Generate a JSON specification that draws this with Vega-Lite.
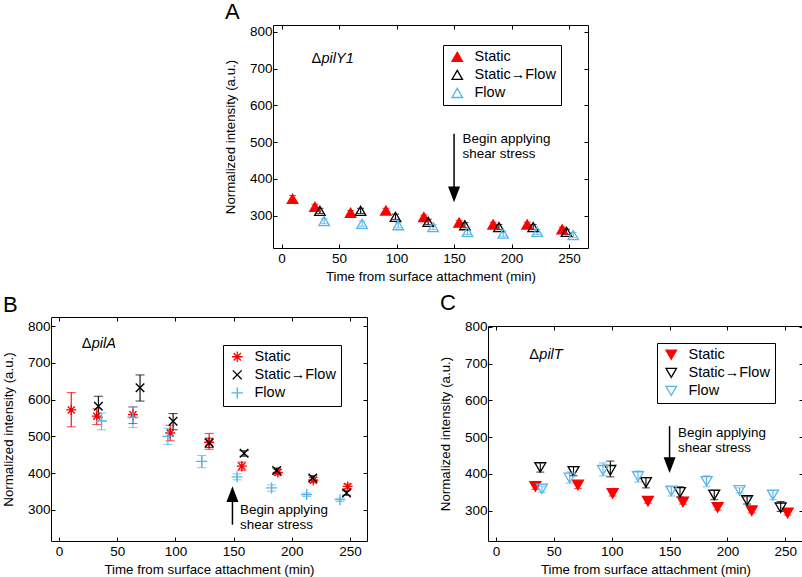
{
"$schema":"https://vega.github.io/schema/vega-lite/v6.json",
"padding":{"left":0,"top":0,"right":0,"bottom":0},
"config":{
 "font":"Liberation Sans",
 "view":{"stroke":"black","strokeWidth":1},
 "axis":{"domain":false,"grid":false,"tickColor":"black","tickSize":-4,"tickWidth":1,"labelFont":"Liberation Sans","labelFontSize":13.5,"labelColor":"black","titleFont":"Liberation Sans","titleFontSize":13.3,"titleFontWeight":"normal","titleColor":"black"},
 "axisX":{"labelPadding":7,"titlePadding":5},
 "axisY":{"labelPadding":5,"titlePadding":12},
 "legend":{"labelFont":"Liberation Sans","labelFontSize":14.5,"labelColor":"black","strokeColor":"black","padding":4.5,"symbolOffset":2.5,"rowPadding":2.1,"symbolStrokeWidth":1.3,"labelOffset":10,"fillColor":"white","symbolSize":110},
 "title":{"font":"Liberation Sans","color":"black"}
},
"datasets":{
 "pts":[
  {"p":"A","s":"Static","t":9.5,"v":346,"lo":337,"hi":355},
  {"p":"A","s":"Static","t":29,"v":324,"lo":317,"hi":331},
  {"p":"A","s":"Static","t":60,"v":308,"lo":302,"hi":314},
  {"p":"A","s":"Static","t":90.7,"v":314,"lo":308,"hi":320},
  {"p":"A","s":"Static","t":123.7,"v":296,"lo":290,"hi":302},
  {"p":"A","s":"Static","t":154.4,"v":281,"lo":275,"hi":287},
  {"p":"A","s":"Static","t":184,"v":276,"lo":270,"hi":282},
  {"p":"A","s":"Static","t":213.6,"v":276,"lo":270,"hi":282},
  {"p":"A","s":"Static","t":244,"v":263,"lo":257,"hi":269},
  {"p":"A","s":"Static→Flow","t":33.3,"v":313,"lo":306,"hi":320},
  {"p":"A","s":"Static→Flow","t":68.7,"v":313,"lo":306,"hi":320},
  {"p":"A","s":"Static→Flow","t":99,"v":297,"lo":290,"hi":304},
  {"p":"A","s":"Static→Flow","t":127.5,"v":283,"lo":276,"hi":290},
  {"p":"A","s":"Static→Flow","t":159.4,"v":274,"lo":267,"hi":281},
  {"p":"A","s":"Static→Flow","t":189,"v":269,"lo":262,"hi":276},
  {"p":"A","s":"Static→Flow","t":218.8,"v":269,"lo":262,"hi":276},
  {"p":"A","s":"Static→Flow","t":247.8,"v":256,"lo":249,"hi":263},
  {"p":"A","s":"Flow","t":37,"v":285,"lo":278,"hi":292},
  {"p":"A","s":"Flow","t":70,"v":278,"lo":271,"hi":285},
  {"p":"A","s":"Flow","t":101.4,"v":274,"lo":267,"hi":281},
  {"p":"A","s":"Flow","t":131.8,"v":269,"lo":262,"hi":276},
  {"p":"A","s":"Flow","t":161.7,"v":256,"lo":249,"hi":263},
  {"p":"A","s":"Flow","t":192.7,"v":251,"lo":244,"hi":258},
  {"p":"A","s":"Flow","t":222.3,"v":256,"lo":249,"hi":263},
  {"p":"A","s":"Flow","t":253.6,"v":247,"lo":240,"hi":254},
  {"p":"B","s":"Static","t":10.5,"v":572,"lo":526,"hi":619},
  {"p":"B","s":"Static","t":32.4,"v":555,"lo":532,"hi":575},
  {"p":"B","s":"Static","t":63.5,"v":559,"lo":535,"hi":580},
  {"p":"B","s":"Static","t":95.5,"v":509,"lo":488,"hi":530},
  {"p":"B","s":"Static","t":129,"v":484,"lo":465,"hi":508},
  {"p":"B","s":"Static","t":157,"v":419,"lo":408,"hi":430},
  {"p":"B","s":"Static","t":188,"v":402,"lo":395,"hi":410},
  {"p":"B","s":"Static","t":218.5,"v":381,"lo":375,"hi":388},
  {"p":"B","s":"Static","t":248,"v":364,"lo":358,"hi":370},
  {"p":"B","s":"Static→Flow","t":33.8,"v":582,"lo":552,"hi":609},
  {"p":"B","s":"Static→Flow","t":69.6,"v":632,"lo":596,"hi":667},
  {"p":"B","s":"Static→Flow","t":98,"v":541,"lo":518,"hi":562},
  {"p":"B","s":"Static→Flow","t":129,"v":482,"lo":470,"hi":495},
  {"p":"B","s":"Static→Flow","t":159,"v":454,"lo":446,"hi":461},
  {"p":"B","s":"Static→Flow","t":187,"v":407,"lo":400,"hi":414},
  {"p":"B","s":"Static→Flow","t":218,"v":387,"lo":381,"hi":393},
  {"p":"B","s":"Static→Flow","t":247,"v":346,"lo":340,"hi":352},
  {"p":"B","s":"Flow","t":36.5,"v":542,"lo":518,"hi":564},
  {"p":"B","s":"Flow","t":63.5,"v":552,"lo":524,"hi":580},
  {"p":"B","s":"Flow","t":93.5,"v":500,"lo":478,"hi":522},
  {"p":"B","s":"Flow","t":122.6,"v":432,"lo":415,"hi":448},
  {"p":"B","s":"Flow","t":153,"v":390,"lo":382,"hi":398},
  {"p":"B","s":"Flow","t":182.6,"v":360,"lo":351,"hi":368},
  {"p":"B","s":"Flow","t":212.8,"v":342,"lo":337,"hi":346},
  {"p":"B","s":"Flow","t":241.4,"v":328,"lo":323,"hi":332},
  {"p":"C","s":"Static","t":34,"v":366,"lo":358,"hi":374},
  {"p":"C","s":"Static","t":70.8,"v":370,"lo":360,"hi":380},
  {"p":"C","s":"Static","t":100.8,"v":347,"lo":340,"hi":355},
  {"p":"C","s":"Static","t":131.3,"v":326,"lo":320,"hi":332},
  {"p":"C","s":"Static","t":161.6,"v":324,"lo":318,"hi":330},
  {"p":"C","s":"Static","t":191.5,"v":309,"lo":302,"hi":316},
  {"p":"C","s":"Static","t":221,"v":300,"lo":294,"hi":306},
  {"p":"C","s":"Static","t":252,"v":294,"lo":288,"hi":300},
  {"p":"C","s":"Static→Flow","t":38.3,"v":418,"lo":405,"hi":430},
  {"p":"C","s":"Static→Flow","t":67,"v":407,"lo":395,"hi":420},
  {"p":"C","s":"Static→Flow","t":98.8,"v":410,"lo":392,"hi":435},
  {"p":"C","s":"Static→Flow","t":129.6,"v":377,"lo":362,"hi":390},
  {"p":"C","s":"Static→Flow","t":159,"v":350,"lo":337,"hi":365},
  {"p":"C","s":"Static→Flow","t":188.6,"v":343,"lo":330,"hi":355},
  {"p":"C","s":"Static→Flow","t":217,"v":328,"lo":318,"hi":338},
  {"p":"C","s":"Static→Flow","t":246,"v":308,"lo":298,"hi":325},
  {"p":"C","s":"Flow","t":39.7,"v":359,"lo":350,"hi":366},
  {"p":"C","s":"Flow","t":63.7,"v":389,"lo":375,"hi":405},
  {"p":"C","s":"Flow","t":92.5,"v":410,"lo":395,"hi":430},
  {"p":"C","s":"Flow","t":122.7,"v":393,"lo":378,"hi":408},
  {"p":"C","s":"Flow","t":151.5,"v":354,"lo":340,"hi":365},
  {"p":"C","s":"Flow","t":182,"v":380,"lo":365,"hi":395},
  {"p":"C","s":"Flow","t":210.5,"v":355,"lo":348,"hi":362},
  {"p":"C","s":"Flow","t":239.3,"v":343,"lo":330,"hi":355}
 ],
 "ann":[
  {"p":"A","t":26,"v":726,"name":"pilY1"},
  {"p":"B","t":19.5,"v":750,"name":"pilA"},
  {"p":"C","t":28.8,"v":725,"name":"pilT"}
 ],
 "arr":[
  {"p":"A","t":150,"v":523,"v2":358,"tx":157.4,"ty":527,"label":"Begin applying\nshear stress"},
  {"p":"B","t":149,"v":260,"v2":343,"tx":155.5,"ty":319,"label":"Begin applying\nshear stress"},
  {"p":"C","t":150,"v":530,"v2":424,"tx":157.3,"ty":530,"label":"Begin applying\nshear stress"}
 ]
},
"spacing":7,
"resolve":{"scale":{"color":"independent","shape":"independent","fill":"independent","stroke":"independent"},"legend":{"color":"independent","shape":"independent","fill":"independent","stroke":"independent"}},
"vconcat":[
 {"spacing":0,"bounds":"flush",
  "resolve":{"scale":{"color":"independent","shape":"independent","fill":"independent","stroke":"independent"},"legend":{"color":"independent","shape":"independent","fill":"independent","stroke":"independent"}},
  "hconcat":[
 {"width":222,"height":10,"data":{"values":[]},"mark":"point","view":{"stroke":null}},
 {"width":315,"height":223,
  "title":{"text":"A","anchor":"start","frame":"group","dx":-48,"offset":3,"dy":19,"fontSize":22,"fontWeight":"normal","baseline":"alphabetic"},
  "resolve":{"axis":{"x":"independent","y":"independent"}},
  "layer":[
   {"data":{"name":"pts"},"transform":[{"filter":"datum.p=='A'"}],"mark":{"type":"rule","strokeWidth":1.1},
    "encoding":{"x":{"field":"t","type":"quantitative","scale":{"domain":[-7.5,266.5],"nice":false,"zero":false},"axis":{"values":[0,50,100,150,200,250],"title":"Time from surface attachment (min)"}},
     "y":{"field":"lo","type":"quantitative","scale":{"domain":[212,819],"nice":false,"zero":false},"axis":{"values":[300,400,500,600,700,800],"title":"Normalized intensity (a.u.)"}},
     "y2":{"field":"hi"},
     "color":{"field":"s","type":"nominal","scale":{"domain":["Flow","Static","Static→Flow"],"range":["#56b4e9","#ff0000","#000000"]},"legend":null}}},
   {"data":{"name":"pts"},"transform":[{"filter":"datum.p=='A'"}],"mark":{"type":"tick","orient":"horizontal","size":7,"thickness":1.1},
    "encoding":{"x":{"field":"t","type":"quantitative","scale":{"domain":[-7.5,266.5],"nice":false,"zero":false},"axis":null},
     "y":{"field":"lo","type":"quantitative","scale":{"domain":[212,819],"nice":false,"zero":false},"axis":null},
     "color":{"field":"s","type":"nominal","scale":{"domain":["Flow","Static","Static→Flow"],"range":["#56b4e9","#ff0000","#000000"]},"legend":null}}},
   {"data":{"name":"pts"},"transform":[{"filter":"datum.p=='A'"}],"mark":{"type":"tick","orient":"horizontal","size":7,"thickness":1.1},
    "encoding":{"x":{"field":"t","type":"quantitative","scale":{"domain":[-7.5,266.5],"nice":false,"zero":false},"axis":null},
     "y":{"field":"hi","type":"quantitative","scale":{"domain":[212,819],"nice":false,"zero":false},"axis":null},
     "color":{"field":"s","type":"nominal","scale":{"domain":["Flow","Static","Static→Flow"],"range":["#56b4e9","#ff0000","#000000"]},"legend":null}}},
   {"data":{"name":"pts"},"transform":[{"filter":"datum.p=='A'"}],"mark":{"type":"point","size":110,"strokeWidth":1.3,"opacity":1},
    "encoding":{"x":{"field":"t","type":"quantitative","scale":{"domain":[-7.5,266.5],"nice":false,"zero":false},"axis":null},
     "y":{"field":"v","type":"quantitative","scale":{"domain":[212,819],"nice":false,"zero":false},"axis":null},
     "shape":{"field":"s","type":"nominal","scale":{"domain":["Static","Static→Flow","Flow"],"range":["triangle-up","triangle-up","triangle-up"]},"legend":{"orient":"none","legendX":170,"legendY":20,"title":null}},
     "fill":{"field":"s","type":"nominal","scale":{"domain":["Static","Static→Flow","Flow"],"range":["#ff0000","transparent","transparent"]},"legend":{"orient":"none","legendX":170,"legendY":20,"title":null}},
     "stroke":{"field":"s","type":"nominal","scale":{"domain":["Static","Static→Flow","Flow"],"range":["#ff0000","#000000","#56b4e9"]},"legend":{"orient":"none","legendX":170,"legendY":20,"title":null}}}},
   {"data":{"name":"ann"},"transform":[{"filter":"datum.p=='A'"}],"mark":{"type":"text","text":"Δ","align":"left","baseline":"middle","fontSize":14.5,"color":"black"},
    "encoding":{"x":{"field":"t","type":"quantitative","scale":{"domain":[-7.5,266.5],"nice":false,"zero":false},"axis":null},
     "y":{"field":"v","type":"quantitative","scale":{"domain":[212,819],"nice":false,"zero":false},"axis":null}}},
   {"data":{"name":"ann"},"transform":[{"filter":"datum.p=='A'"}],"mark":{"type":"text","align":"left","baseline":"middle","fontSize":14.5,"fontStyle":"italic","dx":10,"color":"black"},
    "encoding":{"text":{"field":"name"},"x":{"field":"t","type":"quantitative","scale":{"domain":[-7.5,266.5],"nice":false,"zero":false},"axis":null},
     "y":{"field":"v","type":"quantitative","scale":{"domain":[212,819],"nice":false,"zero":false},"axis":null}}},
   {"data":{"name":"arr"},"transform":[{"filter":"datum.p=='A'"}],"mark":{"type":"rule","strokeWidth":1.5,"color":"black"},
    "encoding":{"x":{"field":"t","type":"quantitative","scale":{"domain":[-7.5,266.5],"nice":false,"zero":false},"axis":null},
     "y":{"field":"v","type":"quantitative","scale":{"domain":[212,819],"nice":false,"zero":false},"axis":null},"y2":{"field":"v2"}}},
   {"data":{"name":"arr"},"transform":[{"filter":"datum.p=='A'"}],"mark":{"type":"point","shape":"M-1,-1.3L1,-1.3L0,1.3Z","filled":true,"color":"black","size":144,"opacity":1},
    "encoding":{"x":{"field":"t","type":"quantitative","scale":{"domain":[-7.5,266.5],"nice":false,"zero":false},"axis":null},
     "y":{"field":"v2","type":"quantitative","scale":{"domain":[212,819],"nice":false,"zero":false},"axis":null}}},
   {"data":{"name":"arr"},"transform":[{"filter":"datum.p=='A'"}],"mark":{"type":"text","align":"left","baseline":"top","fontSize":13.4,"lineHeight":15,"lineBreak":"\n","color":"black"},
    "encoding":{"text":{"field":"label"},"x":{"field":"tx","type":"quantitative","scale":{"domain":[-7.5,266.5],"nice":false,"zero":false},"axis":null},
     "y":{"field":"ty","type":"quantitative","scale":{"domain":[212,819],"nice":false,"zero":false},"axis":null}}},
   {"data":{"name":"pts"},"transform":[{"filter":"datum.p=='A'"}],"mark":{"type":"point","opacity":0},
    "encoding":{"x":{"field":"t","type":"quantitative","scale":{"domain":[-7.5,266.5],"nice":false,"zero":false},"axis":{"orient":"top","values":[0,50,100,150,200,250],"labels":false,"title":null}},
     "y":{"field":"v","type":"quantitative","scale":{"domain":[212,819],"nice":false,"zero":false},"axis":{"orient":"right","values":[300,400,500,600,700,800],"labels":false,"title":null}}}}
  ]}
 ]},
 {"spacing":69,
  "resolve":{"scale":{"color":"independent","shape":"independent","fill":"independent","stroke":"independent"},"legend":{"color":"independent","shape":"independent","fill":"independent","stroke":"independent"}},
  "hconcat":[
 {"width":316,"height":224,
  "title":{"text":"B","anchor":"start","frame":"group","dx":-48,"offset":1,"dy":18.5,"fontSize":22,"fontWeight":"normal","baseline":"alphabetic"},
  "resolve":{"axis":{"x":"independent","y":"independent"}},
  "layer":[
   {"data":{"name":"pts"},"transform":[{"filter":"datum.p=='B'"}],"mark":{"type":"rule","strokeWidth":1.1},
    "encoding":{"x":{"field":"t","type":"quantitative","scale":{"domain":[-6.9,264.6],"nice":false,"zero":false},"axis":{"values":[0,50,100,150,200,250],"title":"Time from surface attachment (min)"}},
     "y":{"field":"lo","type":"quantitative","scale":{"domain":[215.6,824.5],"nice":false,"zero":false},"axis":{"values":[300,400,500,600,700,800],"title":"Normalized intensity (a.u.)"}},
     "y2":{"field":"hi"},
     "color":{"field":"s","type":"nominal","scale":{"domain":["Flow","Static","Static→Flow"],"range":["#56b4e9","#ff0000","#000000"]},"legend":null}}},
   {"data":{"name":"pts"},"transform":[{"filter":"datum.p=='B'"}],"mark":{"type":"tick","orient":"horizontal","size":9,"thickness":1.1},
    "encoding":{"x":{"field":"t","type":"quantitative","scale":{"domain":[-6.9,264.6],"nice":false,"zero":false},"axis":null},
     "y":{"field":"lo","type":"quantitative","scale":{"domain":[215.6,824.5],"nice":false,"zero":false},"axis":null},
     "color":{"field":"s","type":"nominal","scale":{"domain":["Flow","Static","Static→Flow"],"range":["#56b4e9","#ff0000","#000000"]},"legend":null}}},
   {"data":{"name":"pts"},"transform":[{"filter":"datum.p=='B'"}],"mark":{"type":"tick","orient":"horizontal","size":9,"thickness":1.1},
    "encoding":{"x":{"field":"t","type":"quantitative","scale":{"domain":[-6.9,264.6],"nice":false,"zero":false},"axis":null},
     "y":{"field":"hi","type":"quantitative","scale":{"domain":[215.6,824.5],"nice":false,"zero":false},"axis":null},
     "color":{"field":"s","type":"nominal","scale":{"domain":["Flow","Static","Static→Flow"],"range":["#56b4e9","#ff0000","#000000"]},"legend":null}}},
   {"data":{"name":"pts"},"transform":[{"filter":"datum.p=='B'"}],"mark":{"type":"point","size":100,"strokeWidth":1.4,"opacity":1},
    "encoding":{"x":{"field":"t","type":"quantitative","scale":{"domain":[-6.9,264.6],"nice":false,"zero":false},"axis":null},
     "y":{"field":"v","type":"quantitative","scale":{"domain":[215.6,824.5],"nice":false,"zero":false},"axis":null},
     "shape":{"field":"s","type":"nominal","scale":{"domain":["Static","Static→Flow","Flow"],"range":["M-1,0L1,0M0,-1L0,1M-0.7,-0.7L0.7,0.7M-0.7,0.7L0.7,-0.7","M-0.85,-0.85L0.85,0.85M-0.85,0.85L0.85,-0.85","M-1.1,0L1.1,0M0,-1.1L0,1.1"]},"legend":{"orient":"none","legendX":172,"legendY":28,"title":null,"rowPadding":1.1}},
     "stroke":{"field":"s","type":"nominal","scale":{"domain":["Static","Static→Flow","Flow"],"range":["#ff0000","#000000","#56b4e9"]},"legend":{"orient":"none","legendX":172,"legendY":28,"title":null,"rowPadding":1.1}}}},
   {"data":{"name":"ann"},"transform":[{"filter":"datum.p=='B'"}],"mark":{"type":"text","text":"Δ","align":"left","baseline":"middle","fontSize":14.5,"color":"black"},
    "encoding":{"x":{"field":"t","type":"quantitative","scale":{"domain":[-6.9,264.6],"nice":false,"zero":false},"axis":null},
     "y":{"field":"v","type":"quantitative","scale":{"domain":[215.6,824.5],"nice":false,"zero":false},"axis":null}}},
   {"data":{"name":"ann"},"transform":[{"filter":"datum.p=='B'"}],"mark":{"type":"text","align":"left","baseline":"middle","fontSize":14.5,"fontStyle":"italic","dx":10,"color":"black"},
    "encoding":{"text":{"field":"name"},"x":{"field":"t","type":"quantitative","scale":{"domain":[-6.9,264.6],"nice":false,"zero":false},"axis":null},
     "y":{"field":"v","type":"quantitative","scale":{"domain":[215.6,824.5],"nice":false,"zero":false},"axis":null}}},
   {"data":{"name":"arr"},"transform":[{"filter":"datum.p=='B'"}],"mark":{"type":"rule","strokeWidth":1.5,"color":"black"},
    "encoding":{"x":{"field":"t","type":"quantitative","scale":{"domain":[-6.9,264.6],"nice":false,"zero":false},"axis":null},
     "y":{"field":"v","type":"quantitative","scale":{"domain":[215.6,824.5],"nice":false,"zero":false},"axis":null},"y2":{"field":"v2"}}},
   {"data":{"name":"arr"},"transform":[{"filter":"datum.p=='B'"}],"mark":{"type":"point","shape":"M-1,1.3L1,1.3L0,-1.3Z","filled":true,"color":"black","size":144,"opacity":1},
    "encoding":{"x":{"field":"t","type":"quantitative","scale":{"domain":[-6.9,264.6],"nice":false,"zero":false},"axis":null},
     "y":{"field":"v2","type":"quantitative","scale":{"domain":[215.6,824.5],"nice":false,"zero":false},"axis":null}}},
   {"data":{"name":"arr"},"transform":[{"filter":"datum.p=='B'"}],"mark":{"type":"text","align":"left","baseline":"top","fontSize":13.4,"lineHeight":15,"lineBreak":"\n","color":"black"},
    "encoding":{"text":{"field":"label"},"x":{"field":"tx","type":"quantitative","scale":{"domain":[-6.9,264.6],"nice":false,"zero":false},"axis":null},
     "y":{"field":"ty","type":"quantitative","scale":{"domain":[215.6,824.5],"nice":false,"zero":false},"axis":null}}},
   {"data":{"name":"pts"},"transform":[{"filter":"datum.p=='B'"}],"mark":{"type":"point","opacity":0},
    "encoding":{"x":{"field":"t","type":"quantitative","scale":{"domain":[-6.9,264.6],"nice":false,"zero":false},"axis":{"orient":"top","values":[0,50,100,150,200,250],"labels":false,"title":null}},
     "y":{"field":"v","type":"quantitative","scale":{"domain":[215.6,824.5],"nice":false,"zero":false},"axis":{"orient":"right","values":[300,400,500,600,700,800],"labels":false,"title":null}}}}
  ]},
 {"spacing":0,"bounds":"flush",
  "resolve":{"scale":{"color":"independent","shape":"independent","fill":"independent","stroke":"independent"},"legend":{"color":"independent","shape":"independent","fill":"independent","stroke":"independent"}},
  "vconcat":[
  {"width":10,"height":9,"data":{"values":[]},"mark":"point","view":{"stroke":null}},
  {"width":315,"height":215,
  "title":{"text":"C","anchor":"start","frame":"group","dx":-48,"offset":11,"dy":23,"fontSize":22,"fontWeight":"normal","baseline":"alphabetic"},
  "resolve":{"axis":{"x":"independent","y":"independent"}},
  "layer":[
   {"data":{"name":"pts"},"transform":[{"filter":"datum.p=='C'"}],"mark":{"type":"rule","strokeWidth":1.1},
    "encoding":{"x":{"field":"t","type":"quantitative","scale":{"domain":[-6.9,265.3],"nice":false,"zero":false},"axis":{"values":[0,50,100,150,200,250],"title":"Time from surface attachment (min)"}},
     "y":{"field":"lo","type":"quantitative","scale":{"domain":[217.4,802.7],"nice":false,"zero":false},"axis":{"values":[300,400,500,600,700,800],"title":"Normalized intensity (a.u.)"}},
     "y2":{"field":"hi"},
     "color":{"field":"s","type":"nominal","scale":{"domain":["Flow","Static","Static→Flow"],"range":["#56b4e9","#ff0000","#000000"]},"legend":null}}},
   {"data":{"name":"pts"},"transform":[{"filter":"datum.p=='C'"}],"mark":{"type":"tick","orient":"horizontal","size":8,"thickness":1.1},
    "encoding":{"x":{"field":"t","type":"quantitative","scale":{"domain":[-6.9,265.3],"nice":false,"zero":false},"axis":null},
     "y":{"field":"lo","type":"quantitative","scale":{"domain":[217.4,802.7],"nice":false,"zero":false},"axis":null},
     "color":{"field":"s","type":"nominal","scale":{"domain":["Flow","Static","Static→Flow"],"range":["#56b4e9","#ff0000","#000000"]},"legend":null}}},
   {"data":{"name":"pts"},"transform":[{"filter":"datum.p=='C'"}],"mark":{"type":"tick","orient":"horizontal","size":8,"thickness":1.1},
    "encoding":{"x":{"field":"t","type":"quantitative","scale":{"domain":[-6.9,265.3],"nice":false,"zero":false},"axis":null},
     "y":{"field":"hi","type":"quantitative","scale":{"domain":[217.4,802.7],"nice":false,"zero":false},"axis":null},
     "color":{"field":"s","type":"nominal","scale":{"domain":["Flow","Static","Static→Flow"],"range":["#56b4e9","#ff0000","#000000"]},"legend":null}}},
   {"data":{"name":"pts"},"transform":[{"filter":"datum.p=='C'"}],"mark":{"type":"point","size":120,"strokeWidth":1.3,"opacity":1},
    "encoding":{"x":{"field":"t","type":"quantitative","scale":{"domain":[-6.9,265.3],"nice":false,"zero":false},"axis":null},
     "y":{"field":"v","type":"quantitative","scale":{"domain":[217.4,802.7],"nice":false,"zero":false},"axis":null},
     "shape":{"field":"s","type":"nominal","scale":{"domain":["Static","Static→Flow","Flow"],"range":["triangle-down","triangle-down","triangle-down"]},"legend":{"orient":"none","legendX":169,"legendY":17,"title":null}},
     "fill":{"field":"s","type":"nominal","scale":{"domain":["Static","Static→Flow","Flow"],"range":["#ff0000","transparent","transparent"]},"legend":{"orient":"none","legendX":169,"legendY":17,"title":null}},
     "stroke":{"field":"s","type":"nominal","scale":{"domain":["Static","Static→Flow","Flow"],"range":["#ff0000","#000000","#56b4e9"]},"legend":{"orient":"none","legendX":169,"legendY":17,"title":null}}}},
   {"data":{"name":"ann"},"transform":[{"filter":"datum.p=='C'"}],"mark":{"type":"text","text":"Δ","align":"left","baseline":"middle","fontSize":14.5,"color":"black"},
    "encoding":{"x":{"field":"t","type":"quantitative","scale":{"domain":[-6.9,265.3],"nice":false,"zero":false},"axis":null},
     "y":{"field":"v","type":"quantitative","scale":{"domain":[217.4,802.7],"nice":false,"zero":false},"axis":null}}},
   {"data":{"name":"ann"},"transform":[{"filter":"datum.p=='C'"}],"mark":{"type":"text","align":"left","baseline":"middle","fontSize":14.5,"fontStyle":"italic","dx":10,"color":"black"},
    "encoding":{"text":{"field":"name"},"x":{"field":"t","type":"quantitative","scale":{"domain":[-6.9,265.3],"nice":false,"zero":false},"axis":null},
     "y":{"field":"v","type":"quantitative","scale":{"domain":[217.4,802.7],"nice":false,"zero":false},"axis":null}}},
   {"data":{"name":"arr"},"transform":[{"filter":"datum.p=='C'"}],"mark":{"type":"rule","strokeWidth":1.5,"color":"black"},
    "encoding":{"x":{"field":"t","type":"quantitative","scale":{"domain":[-6.9,265.3],"nice":false,"zero":false},"axis":null},
     "y":{"field":"v","type":"quantitative","scale":{"domain":[217.4,802.7],"nice":false,"zero":false},"axis":null},"y2":{"field":"v2"}}},
   {"data":{"name":"arr"},"transform":[{"filter":"datum.p=='C'"}],"mark":{"type":"point","shape":"M-1,-1.3L1,-1.3L0,1.3Z","filled":true,"color":"black","size":144,"opacity":1},
    "encoding":{"x":{"field":"t","type":"quantitative","scale":{"domain":[-6.9,265.3],"nice":false,"zero":false},"axis":null},
     "y":{"field":"v2","type":"quantitative","scale":{"domain":[217.4,802.7],"nice":false,"zero":false},"axis":null}}},
   {"data":{"name":"arr"},"transform":[{"filter":"datum.p=='C'"}],"mark":{"type":"text","align":"left","baseline":"top","fontSize":13.4,"lineHeight":15,"lineBreak":"\n","color":"black"},
    "encoding":{"text":{"field":"label"},"x":{"field":"tx","type":"quantitative","scale":{"domain":[-6.9,265.3],"nice":false,"zero":false},"axis":null},
     "y":{"field":"ty","type":"quantitative","scale":{"domain":[217.4,802.7],"nice":false,"zero":false},"axis":null}}},
   {"data":{"name":"pts"},"transform":[{"filter":"datum.p=='C'"}],"mark":{"type":"point","opacity":0},
    "encoding":{"x":{"field":"t","type":"quantitative","scale":{"domain":[-6.9,265.3],"nice":false,"zero":false},"axis":{"orient":"top","values":[0,50,100,150,200,250],"labels":false,"title":null}},
     "y":{"field":"v","type":"quantitative","scale":{"domain":[217.4,802.7],"nice":false,"zero":false},"axis":{"orient":"right","values":[300,400,500,600,700,800],"labels":false,"title":null}}}}
  ]}
 ]}
 ]}
]
}
